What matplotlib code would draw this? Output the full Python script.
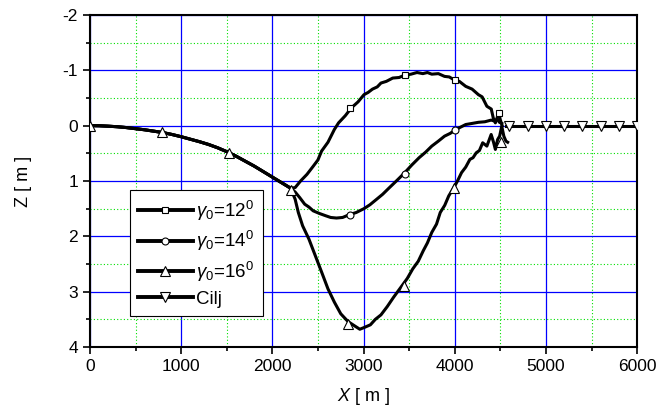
import matplotlib
matplotlib.use("Agg")
from matplotlib import pyplot as plt
from matplotlib.lines import Line2D
from matplotlib.ticker import MultipleLocator

plt.rcParams['font.family'] = ['Liberation Sans', 'DejaVu Sans']
plt.rcParams['mathtext.fontset'] = 'custom'
plt.rcParams['mathtext.rm'] = 'Liberation Sans'
plt.rcParams['mathtext.it'] = 'Liberation Sans:italic'
plt.rcParams['axes.unicode_minus'] = False

# shared launch part of the trajectory
x_common = [0, 100, 200, 300, 400, 500, 600, 700, 800, 900, 1000, 1100, 1200,
            1300, 1400, 1500, 1600, 1700, 1800, 1900, 2000, 2100, 2200]
z_common = [0, 0.002, 0.01, 0.02, 0.035, 0.055, 0.075, 0.10, 0.125, 0.16, 0.20,
            0.245, 0.29, 0.34, 0.40, 0.47, 0.55, 0.64, 0.73, 0.83, 0.93, 1.03, 1.13]

# gamma0 = 12
x_12 = [2250, 2310, 2380, 2450, 2500, 2540, 2610, 2680, 2726, 2800, 2866, 2940,
        3005, 3050, 3098, 3150, 3191, 3250, 3320, 3390, 3446, 3520, 3586, 3650,
        3700, 3748, 3820, 3888, 3940, 3980, 4050, 4120, 4190, 4259, 4300, 4352,
        4400, 4422, 4445, 4482, 4500, 4520]
z_12 = [1.12, 1.0, 0.88, 0.73, 0.62, 0.46, 0.30, 0.07, -0.05, -0.18, -0.32, -0.43,
        -0.56, -0.60, -0.66, -0.70, -0.77, -0.80, -0.86, -0.87, -0.91, -0.93, -0.96, -0.94,
        -0.96, -0.93, -0.94, -0.89, -0.88, -0.84, -0.80, -0.71, -0.66, -0.56, -0.52, -0.35,
        -0.30, -0.14, -0.05, -0.23, -0.10, 0.0]
# gamma0 = 14
x_14 = [2250, 2300, 2355, 2400, 2448, 2520, 2587, 2640, 2703, 2770, 2843, 2920,
        3005, 3070, 3144, 3210, 3284, 3360, 3446, 3530, 3609, 3680, 3748, 3820,
        3888, 3950, 4004, 4060, 4120, 4190, 4259, 4330, 4399, 4440, 4468, 4490, 4515]
z_14 = [1.20, 1.30, 1.42, 1.47, 1.54, 1.59, 1.63, 1.66, 1.67, 1.66, 1.61, 1.57,
        1.50, 1.43, 1.33, 1.24, 1.12, 1.00, 0.86, 0.71, 0.58, 0.48, 0.37, 0.28,
        0.19, 0.14, 0.08, 0.03, -0.02, -0.04, -0.06, -0.07, -0.10, -0.08, -0.11, -0.06, -0.04]
# gamma0 = 16
x_16 = [2250, 2285, 2332, 2401, 2471, 2541, 2610, 2680, 2750, 2829, 2912, 2959,
        3005, 3075, 3130, 3191, 3260, 3330, 3432, 3480, 3539, 3600, 3655, 3700,
        3748, 3800, 3841, 3890, 3934, 3990, 4030, 4074, 4120, 4166, 4200, 4236,
        4270, 4306, 4352, 4399, 4425, 4445, 4470, 4492, 4515, 4538, 4561, 4580]
z_16 = [1.33, 1.57, 1.81, 2.05, 2.35, 2.65, 2.95, 3.19, 3.40, 3.54, 3.63, 3.68,
        3.65, 3.60, 3.50, 3.42, 3.27, 3.10, 2.87, 2.76, 2.59, 2.45, 2.26, 2.12,
        1.93, 1.78, 1.57, 1.44, 1.27, 1.12, 1.00, 0.85, 0.75, 0.61, 0.58, 0.49,
        0.45, 0.31, 0.37, 0.16, 0.30, 0.43, 0.25, 0.19, 0.01, 0.19, 0.28, 0.30]
# target
x_cilj = [4560, 4600, 4800, 5000, 5200, 5400, 5600, 5800, 6000]
z_cilj = [0, 0, 0, 0, 0, 0, 0, 0, 0]

# marker positions
mx_12 = [2850, 3450, 4000, 4482]
mz_12 = [-0.32, -0.92, -0.82, -0.23]
mx_14 = [2850, 3450, 4000]
mz_14 = [1.62, 0.88, 0.08]
mx_16 = [0, 790, 1520, 2200, 2830, 3440, 3990, 4510]
mz_16 = [0, 0.12, 0.50, 1.17, 3.58, 2.90, 1.13, 0.30]
mx_cilj = [4600, 4800, 5000, 5200, 5400, 5600, 5800, 6000]
mz_cilj = [0, 0, 0, 0, 0, 0, 0, 0]

labels = [r'$\gamma_0$=12$^0$', r'$\gamma_0$=14$^0$', r'$\gamma_0$=16$^0$', 'Cilj']

fig = plt.figure(figsize=(6.61, 4.16), dpi=100)
fig.subplots_adjust(left=0.136, right=0.964, top=0.964, bottom=0.166)
ax = fig.add_subplot(111)

lw = 2.2
series = [
    (x_12, z_12, mx_12, mz_12, 's', 4.5),
    (x_14, z_14, mx_14, mz_14, 'o', 5),
    (x_16, z_16, mx_16, mz_16, '^', 7),
]
for xs, zs, mx, mz, mk, ms in series:
    ax.plot(x_common + xs, z_common + zs, color='black', lw=lw, zorder=3)
for xs, zs, mx, mz, mk, ms in series:
    ax.plot(mx, mz, ls='none', marker=mk, ms=ms, mfc='white', mec='black', mew=0.8, zorder=4)
ax.plot(x_cilj, z_cilj, color='black', lw=lw, zorder=3)
ax.plot(mx_cilj, mz_cilj, ls='none', marker='v', ms=7, mfc='white', mec='black', mew=0.8, zorder=4)

ax.set_xlim(0, 6000)
ax.set_ylim(4, -2)
ax.xaxis.set_major_locator(MultipleLocator(1000))
ax.xaxis.set_minor_locator(MultipleLocator(500))
ax.yaxis.set_major_locator(MultipleLocator(1))
ax.yaxis.set_minor_locator(MultipleLocator(0.5))
ax.grid(which='major', color='#0000ff', lw=0.9, ls='-', zorder=1)
ax.grid(which='minor', color='#00e000', lw=0.8, ls=(0, (1, 2)), zorder=1)
ax.set_axisbelow(True)
ax.tick_params(which='both', direction='out', labelsize=12.5, width=1.2)
ax.tick_params(which='major', length=5)
ax.tick_params(which='minor', length=3)
for s in ax.spines.values():
    s.set_linewidth(1.5)

ax.set_xlabel(r'$X$ [ m ]', fontsize=13, labelpad=9)
ax.set_ylabel('Z [ m ]', fontsize=13, labelpad=22)

markers = ['s', 'o', '^', 'v']
sizes = [4.5, 5, 7, 7]
handles = [Line2D([], [], color='black', lw=2.8, marker=m, ms=s, mfc='white', mec='black', mew=0.8)
           for m, s in zip(markers, sizes)]
leg = ax.legend(handles, labels, loc='lower left', bbox_to_anchor=(0.073, 0.093),
                borderaxespad=0, fontsize=13.5, handlelength=2.9, fancybox=False,
                framealpha=1, edgecolor='black', labelspacing=0.35, borderpad=0.45,
                handletextpad=0.2)
leg.get_frame().set_linewidth(0.8)
leg.set_zorder(5)

fig.savefig('out.png', dpi=100)
